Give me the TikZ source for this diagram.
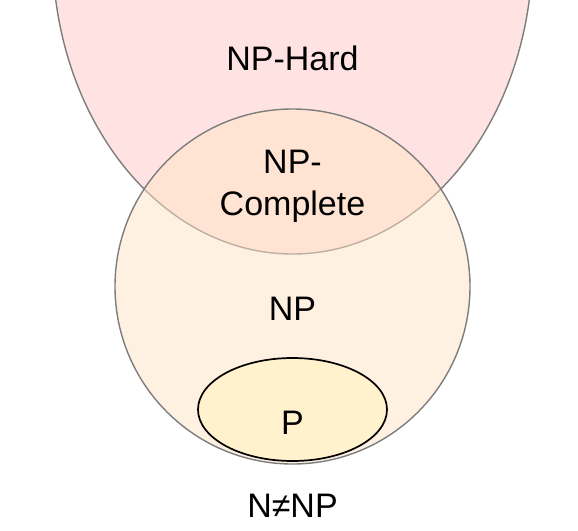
\documentclass[tikz,border=0pt]{standalone}
\usepackage{fontspec}
\setmainfont{Liberation Sans}
\usetikzlibrary{shapes.geometric}
\definecolor{hardfill}{RGB}{255,227,227}
\definecolor{npfill}{RGB}{255,227,197}
\definecolor{pfill}{RGB}{255,242,204}
\definecolor{edge}{RGB}{125,125,125}
\begin{document}
\begin{tikzpicture}[x=1pt,y=-1pt,
  setshape/.style={ellipse, inner sep=0pt, outer sep=0pt, line width=1.4pt},
  lbl/.style={inner sep=0pt, anchor=base, font=\fontsize{34}{42.4}\selectfont, align=center}]
\useasboundingbox (0,0) rectangle (578,530);
\begin{scope}
\clip (0,0) rectangle (578,530);
\node[setshape, draw=edge, fill=hardfill, minimum width=480pt, minimum height=608pt] (hard) at (292.5,-50) {};
\node[setshape, draw=edge, fill=npfill, fill opacity=0.5, minimum width=355pt, minimum height=355pt] (np) at (292.5,286.5) {};
\node[setshape, draw=black, line width=1.7pt, fill=pfill, minimum width=189pt, minimum height=103pt] (p) at (292.5,409.5) {};
\end{scope}
\node[lbl] (thard) at (292.5,70.7) {NP-Hard};
\node[lbl] (tnpc) at (292.5,215.7) {NP-\\Complete};
\node[lbl] (tnp) at (292.5,320) {NP};
\node[lbl] (tp) at (292.5,434) {P};
\node[lbl] (tneq) at (292.5,517) {N≠NP};
\end{tikzpicture}
\end{document}
